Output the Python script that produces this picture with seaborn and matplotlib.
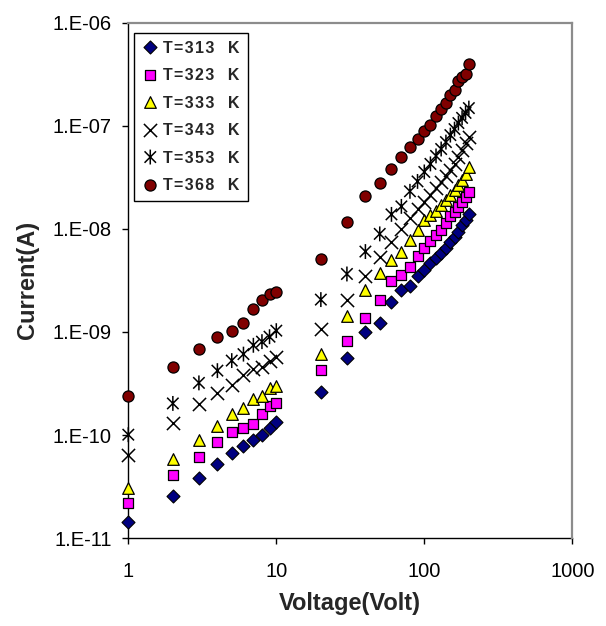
import numpy as np
import pandas as pd
import matplotlib
matplotlib.use("Agg")
import matplotlib.pyplot as plt
import seaborn as sns
from matplotlib.path import Path
from matplotlib.ticker import FixedLocator, FixedFormatter, NullLocator

# ---------------- data ----------------
voltage = [1, 2, 3, 4, 5, 6, 7, 8, 9, 10,
           20, 30, 40, 50, 60, 70, 80, 90, 100, 110, 120, 130, 140, 150,
           160, 170, 180, 190, 200]

i_313 = [1.44e-11, 2.58e-11, 3.82e-11, 5.29e-11, 6.66e-11, 7.84e-11, 8.98e-11, 1.01e-10, 1.18e-10, 1.33e-10,
         2.62e-10, 5.60e-10, 1.00e-9, 1.23e-9, 1.95e-9, 2.58e-9, 2.77e-9, 3.45e-9, 4.01e-9, 4.66e-9,
         5.20e-9, 5.80e-9, 6.48e-9, 7.52e-9, 8.39e-9, 9.37e-9, 1.10e-8, 1.23e-8, 1.38e-8]
i_323 = [2.22e-11, 4.13e-11, 6.16e-11, 8.52e-11, 1.08e-10, 1.16e-10, 1.28e-10, 1.62e-10, 1.92e-10, 2.06e-10,
         4.26e-10, 8.17e-10, 1.37e-9, 2.03e-9, 3.15e-9, 3.59e-9, 4.28e-9, 5.47e-9, 6.53e-9, 7.62e-9,
         8.71e-9, 9.74e-9, 1.13e-8, 1.32e-8, 1.47e-8, 1.64e-8, 1.84e-8, 2.05e-8, 2.26e-8]
i_333 = [3.10e-11, 5.93e-11, 8.90e-11, 1.22e-10, 1.59e-10, 1.85e-10, 2.22e-10, 2.41e-10, 2.88e-10, 2.98e-10,
         6.07e-10, 1.42e-9, 2.58e-9, 3.75e-9, 5.01e-9, 5.97e-9, 7.79e-9, 9.74e-9, 1.21e-8, 1.35e-8,
         1.50e-8, 1.72e-8, 1.92e-8, 2.15e-8, 2.40e-8, 2.68e-8, 2.99e-8, 3.41e-8, 3.99e-8]
i_343 = [6.40e-11, 1.30e-10, 2.02e-10, 2.54e-10, 3.04e-10, 3.86e-10, 4.39e-10, 4.58e-10, 5.24e-10, 5.76e-10,
         1.08e-9, 2.06e-9, 3.47e-9, 5.36e-9, 7.46e-9, 9.94e-9, 1.26e-8, 1.54e-8, 1.84e-8, 2.15e-8,
         2.51e-8, 2.86e-8, 3.27e-8, 3.73e-8, 4.26e-8, 4.97e-8, 5.81e-8, 6.78e-8, 7.74e-8]
i_353 = [1.01e-10, 2.03e-10, 3.21e-10, 4.22e-10, 5.28e-10, 6.10e-10, 7.43e-10, 8.06e-10, 9.00e-10, 1.03e-9,
         2.06e-9, 3.65e-9, 6.02e-9, 8.93e-9, 1.38e-8, 1.65e-8, 2.31e-8, 2.88e-8, 3.56e-8, 4.26e-8,
         5.09e-8, 5.94e-8, 6.93e-8, 8.10e-8, 9.26e-8, 1.06e-7, 1.19e-7, 1.33e-7, 1.48e-7]
i_368 = [2.40e-10, 4.58e-10, 6.87e-10, 8.90e-10, 1.03e-9, 1.23e-9, 1.68e-9, 2.02e-9, 2.33e-9, 2.43e-9,
         5.10e-9, 1.17e-8, 2.06e-8, 2.79e-8, 3.79e-8, 4.95e-8, 6.17e-8, 7.37e-8, 8.85e-8, 1.01e-7,
         1.25e-7, 1.44e-7, 1.67e-7, 1.98e-7, 2.21e-7, 2.71e-7, 2.98e-7, 3.20e-7, 3.99e-7]

series_labels = ["T=313  K", "T=323  K", "T=333  K", "T=343  K", "T=353  K", "T=368  K"]
x_ticks = [1, 10, 100, 1000]
x_tick_labels = ["1", "10", "100", "1000"]
y_ticks = [1e-11, 1e-10, 1e-9, 1e-8, 1e-7, 1e-6]
y_tick_labels = ["1.E-11", "1.E-10", "1.E-09", "1.E-08", "1.E-07", "1.E-06"]

# ---------------- style ----------------
sns.set_style("white")
plt.rcParams["font.family"] = ["Liberation Sans", "DejaVu Sans"]


def spaced(label):
    # Excel-like letter spacing for the legend entries
    head, tail = label.split("  ")
    return "\u200a".join(head) + "   " + tail


# Excel-like asterisk: X plus vertical bar
ast_path = Path(
    [(-1, -1), (1, 1), (-1, 1), (1, -1), (0, -1.3), (0, 1.3)],
    [Path.MOVETO, Path.LINETO, Path.MOVETO, Path.LINETO, Path.MOVETO, Path.LINETO],
)

styles = [
    dict(marker="D", color="#000080", edgecolor="black", s=44, linewidth=0.8),
    dict(marker="s", color="#FF00FF", edgecolor="black", s=52, linewidth=0.9),
    dict(marker="^", color="#FFFF00", edgecolor="black", s=70, linewidth=0.9),
    dict(marker="x", color="black", edgecolor="black", s=90, linewidth=1.1),
    dict(marker=ast_path, color="black", facecolor="none", edgecolor="black", s=115, linewidth=1.1),
    dict(marker="o", color="#800000", edgecolor="black", s=64, linewidth=0.9),
]

series = [i_313, i_323, i_333, i_343, i_353, i_368]

fig = plt.figure(figsize=(6.06, 6.26), dpi=100)
ax = fig.add_axes([128.3 / 606, 1 - 538.3 / 626, 444 / 606, 515.8 / 626])

for vals, lab, st in zip(series, series_labels, styles):
    df = pd.DataFrame({"Voltage": voltage, "Current": vals})
    sns.scatterplot(data=df, x="Voltage", y="Current", ax=ax, label=spaced(lab),
                    clip_on=False, zorder=3, **st)

ax.set_xscale("log")
ax.set_yscale("log")
ax.set_xlim(1, 1000)
ax.set_ylim(1e-11, 1e-6)

ax.xaxis.set_major_locator(FixedLocator(x_ticks))
ax.xaxis.set_major_formatter(FixedFormatter(x_tick_labels))
ax.xaxis.set_minor_locator(NullLocator())
ax.yaxis.set_major_locator(FixedLocator(y_ticks))
ax.yaxis.set_major_formatter(FixedFormatter(y_tick_labels))
ax.yaxis.set_minor_locator(NullLocator())

ax.tick_params(axis="both", which="major", direction="out", length=4,
               width=1.0, color="black", labelsize=14.5, labelcolor="black")
ax.tick_params(axis="x", pad=13)
ax.tick_params(axis="y", pad=8)
ax.xaxis.set_ticks_position("bottom")
ax.yaxis.set_ticks_position("left")

for side in ["left", "bottom"]:
    ax.spines[side].set_color("black")
    ax.spines[side].set_linewidth(1.0)
    ax.spines[side].set_zorder(2)
for side in ["top", "right"]:
    ax.spines[side].set_color("#8c8c8c")
    ax.spines[side].set_linewidth(1.6)

ax.set_xlabel("Voltage(Volt)", fontsize=17, fontweight="bold", labelpad=8)
ax.set_ylabel("Current(A)", fontsize=17, fontweight="bold", labelpad=10)

leg = ax.legend(loc="upper left", bbox_to_anchor=(0.0135, 0.980), borderaxespad=0,
                frameon=True, fancybox=False, edgecolor="black", framealpha=1,
                prop={"weight": "bold", "size": 11.5}, handlelength=1.0,
                handletextpad=0.3, labelspacing=0.78, borderpad=0.5,
                scatteryoffsets=[0.5])
leg.get_frame().set_linewidth(1.0)

fig.savefig("out.png", dpi=100)
